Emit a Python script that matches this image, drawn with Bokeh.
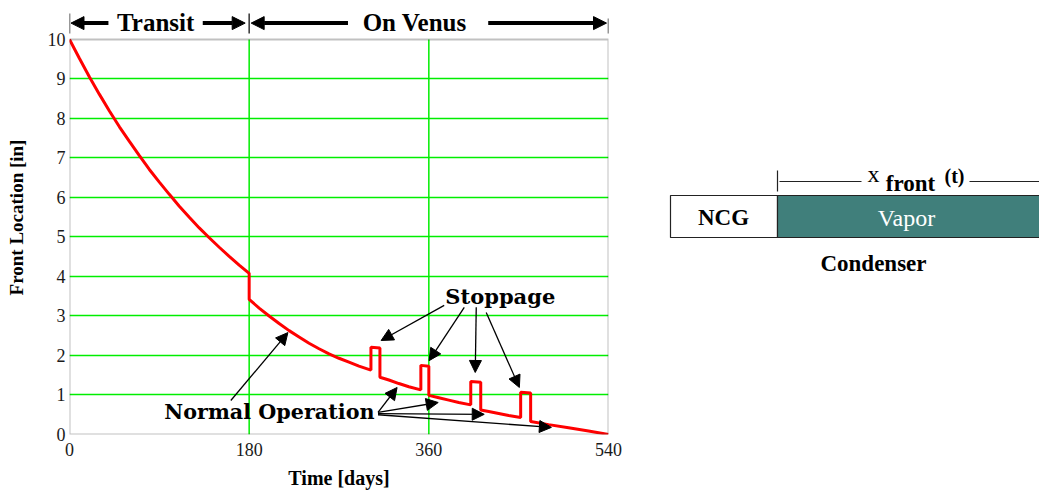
from bokeh.plotting import figure
from bokeh.models import Range1d, FixedTicker, Arrow, NormalHead, Label, BoxAnnotation
from bokeh.layouts import row
from bokeh.embed import file_html
from bokeh.resources import INLINE

# ---------------- data ----------------
time_days = [0, 10, 20, 30, 40, 50, 60, 70, 80, 90, 100, 110, 120, 130, 140, 150, 160, 170, 180,
             180, 190, 200, 210, 220, 230, 240, 250, 260, 270, 280, 290, 302,
             302, 311,
             311, 320, 330, 340, 352,
             352, 360,
             360, 370, 380, 390, 402,
             402, 412,
             412, 420, 430, 440, 452,
             452, 462,
             462, 480, 500, 520, 540]
front_in = [10.0, 9.52, 9.05, 8.61, 8.19, 7.79, 7.42, 7.06, 6.71, 6.39, 6.08, 5.78, 5.50, 5.23, 4.98, 4.74, 4.51, 4.29, 4.08,
            3.42, 3.20, 3.00, 2.81, 2.63, 2.47, 2.31, 2.17, 2.04, 1.93, 1.83, 1.73, 1.63,
            2.21, 2.19,
            1.45, 1.38, 1.29, 1.21, 1.13,
            1.75, 1.73,
            0.99, 0.93, 0.87, 0.81, 0.75,
            1.34, 1.32,
            0.62, 0.58, 0.53, 0.48, 0.43,
            1.07, 1.05,
            0.33, 0.25, 0.17, 0.09, 0.0]

x_ticks = [0, 180, 360, 540]
y_ticks = [0, 1, 2, 3, 4, 5, 6, 7, 8, 9, 10]
x_grid = [180, 360]
y_grid = [1, 2, 3, 4, 5, 6, 7, 8, 9]

phase_names = ["Transit", "On Venus"]
phase_bounds = [0, 180, 540]

# ---------------- main chart ----------------
SERIF = "Liberation Serif"
GREEN = "#00ee00"
Y_TOP = 10.987   # room above the plotting box for the phase header
p = figure(width=640, height=494, x_range=Range1d(0, 540), y_range=Range1d(0, Y_TOP),
           output_backend="svg", toolbar_location=None,
           min_border_left=69, min_border_right=32, min_border_top=0, min_border_bottom=60)
p.outline_line_color = None

# grid: horizontal via the y grid, vertical limited to the box
p.xgrid.visible = False
p.ygrid.ticker = FixedTicker(ticks=y_grid)
p.ygrid.grid_line_color = GREEN
p.ygrid.grid_line_width = 1.5
p.segment(x0=x_grid, y0=[y_ticks[0]] * len(x_grid), x1=x_grid, y1=[y_ticks[-1]] * len(x_grid),
          line_color=GREEN, line_width=1.5)

p.line(time_days, front_in, line_color="#ff0000", line_width=3)

# plotting box
p.add_layout(BoxAnnotation(left=x_ticks[0], right=x_ticks[-1], bottom=y_ticks[0], top=y_ticks[-1],
                           fill_alpha=0, line_color="#333333", line_width=2))

p.xaxis.ticker = FixedTicker(ticks=x_ticks)
p.yaxis.ticker = FixedTicker(ticks=y_ticks)
for ax in (p.xaxis[0], p.yaxis[0]):
    ax.major_tick_line_color = None
    ax.minor_tick_line_color = None
    ax.major_tick_out = 0
    ax.major_tick_in = 0
    ax.minor_tick_out = 0
    ax.axis_line_color = None
    ax.major_label_text_font = SERIF
    ax.major_label_text_font_size = "18px"
    ax.major_label_text_color = "#1a1a1a"
    ax.axis_label_text_font = SERIF
    ax.axis_label_text_font_style = "bold"
    ax.axis_label_text_color = "#000000"

p.xaxis.axis_label = "Time [days]"
p.xaxis.axis_label_text_font_size = "20px"
p.xaxis.major_label_standoff = 8
p.xaxis.axis_label_standoff = 8
p.yaxis.axis_label = "Front Location [in]"
p.yaxis.axis_label_text_font_size = "19px"
p.yaxis.major_label_standoff = 4
p.yaxis.axis_label_standoff = 18

# phase header
bar_lo, bar_hi = 10.15, 10.66
for xb in phase_bounds:
    p.add_layout(Arrow(x_start=xb, y_start=bar_lo, x_end=xb, y_end=(bar_hi if xb < 540 else 10.53),
                       end=None, line_color="#333333", line_width=1.5))
arrow_y = 10.415
head_kw = dict(size=13, fill_color="black", line_color="black")
for xs, xe in [(39, 1.5), (133.5, 176), (279, 182), (419.5, 538)]:
    p.add_layout(Arrow(x_start=xs, y_start=arrow_y, x_end=xe, y_end=arrow_y,
                       end=NormalHead(**head_kw), line_color="black", line_width=4))
for name, xc in zip(phase_names, [86.3, 345.8]):
    p.add_layout(Label(x=xc, y=10.43, text=name, text_align="center", text_baseline="middle",
                       text_font=SERIF, text_font_style="bold", text_font_size="25px",
                       text_color="black"))

# callouts
CALL_FONT = "DejaVu Serif"
p.add_layout(Label(x=431.6, y=3.49, text="Stoppage", text_align="center", text_baseline="middle",
                   text_font=CALL_FONT, text_font_style="bold", text_font_size="21px", text_color="black"))
p.add_layout(Label(x=200.3, y=0.58, text="Normal Operation", text_align="center", text_baseline="middle",
                   text_font=CALL_FONT, text_font_style="bold", text_font_size="20.7px", text_color="black"))

small_head = dict(size=12, fill_color="black", line_color="black")
stop_arrows = [((375.4, 3.27), (312.2, 2.38)),
               ((395.5, 3.22), (360.3, 1.87)),
               ((407.5, 3.22), (406.5, 1.57)),
               ((417.5, 3.09), (450.7, 1.19))]
norm_arrows = [((161.6, 0.86), (218.8, 2.58)),
               ((309.1, 0.56), (328.2, 1.19)),
               ((309.1, 0.56), (369.4, 0.81)),
               ((309.1, 0.53), (415.5, 0.51)),
               ((309.1, 0.50), (482.8, 0.18))]
for (xs, ys), (xe, ye) in stop_arrows + norm_arrows:
    p.add_layout(Arrow(x_start=xs, y_start=ys, x_end=xe, y_end=ye,
                       end=NormalHead(**small_head), line_color="black", line_width=1.3))

# ---------------- condenser schematic ----------------
d = figure(width=399, height=494, x_range=Range1d(640, 1039), y_range=Range1d(434, 0),
           output_backend="svg", toolbar_location=None, x_axis_type=None, y_axis_type=None,
           min_border_left=0, min_border_right=0, min_border_top=0, min_border_bottom=60,
           outline_line_color=None)
d.grid.visible = False

seg_names = ["NCG", "Vapor"]
seg_left = [670, 777]
seg_right = [777, 1060]
seg_fill = ["#ffffff", "#407f7b"]
seg_text = ["#000000", "#ffffff"]
d.quad(left=seg_left, right=seg_right, top=[195, 195], bottom=[237, 237],
       fill_color=seg_fill, line_color="#222222", line_width=1.2)
d.add_layout(Label(x=723, y=217, text=seg_names[0], text_align="center", text_baseline="middle",
                   text_font=SERIF, text_font_style="bold", text_font_size="23px", text_color=seg_text[0]))
d.add_layout(Label(x=906, y=217, text=seg_names[1], text_align="center", text_baseline="middle",
                   text_font=SERIF, text_font_size="24px", text_color=seg_text[1]))
d.add_layout(Label(x=873, y=263, text="Condenser", text_align="center", text_baseline="middle",
                   text_font=SERIF, text_font_style="bold", text_font_size="23px", text_color="black"))
d.segment(x0=[777, 779, 969], y0=[170, 181, 181], x1=[777, 861, 1039], y1=[191, 181, 181],
          line_color="#222222", line_width=1.2)
d.add_layout(Label(x=873, y=173, text="x", text_align="center", text_baseline="middle",
                   text_font=SERIF, text_font_size="24px", text_color="black"))
d.add_layout(Label(x=910, y=183, text="front", text_align="center", text_baseline="middle",
                   text_font=SERIF, text_font_style="bold", text_font_size="23px", text_color="black"))
d.add_layout(Label(x=954, y=175, text="(t)", text_align="center", text_baseline="middle",
                   text_font=SERIF, text_font_style="bold", text_font_size="20px", text_color="black"))

layout = row(p, d, spacing=0)
open("out.html", "w").write(file_html(layout, INLINE))
